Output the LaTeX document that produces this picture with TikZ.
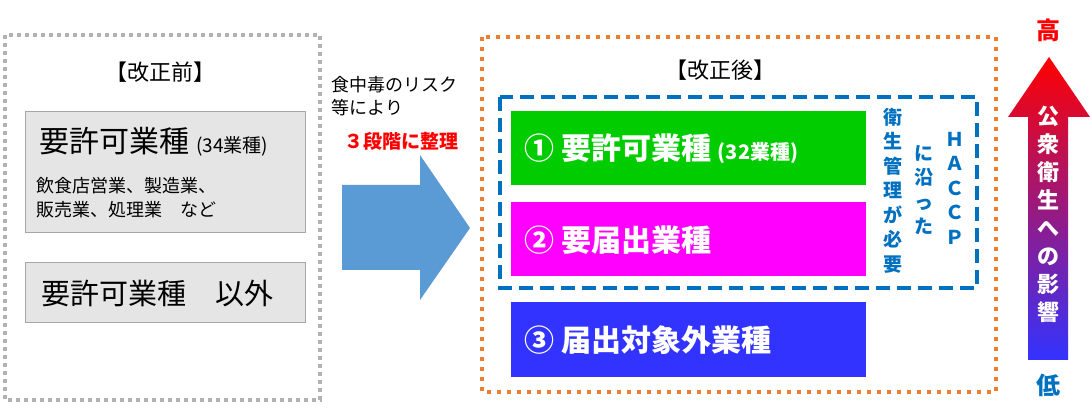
\documentclass[tikz,border=0pt]{standalone}
\usepackage{fontspec}
\setmainfont{Noto Sans CJK JP}
\begin{document}
\begin{tikzpicture}[x=1pt,y=-1pt,
  gbox/.style={draw=gray!70,fill=gray!20,line width=1pt},
  cbox/.style={inner sep=0pt,text=white,font=\bfseries\fontsize{30}{33}\selectfont},
  vt/.style={align=center,font=\bfseries\fontsize{19}{24.5}\selectfont,text=dblue,inner sep=0pt}]
\definecolor{orng}{RGB}{237,125,49}\definecolor{dblue}{RGB}{0,112,192}\definecolor{arr}{RGB}{91,155,213}
\definecolor{lpink}{RGB}{255,153,255}\definecolor{bblue}{RGB}{51,51,255}
\definecolor{mgt}{RGB}{255,0,255}\definecolor{grn}{RGB}{0,204,0}\definecolor{rd}{RGB}{255,0,0}
\useasboundingbox (0,0) rectangle (1090,419);
% left
\draw[gray!60,line width=4pt,dash pattern=on 4pt off 4pt] (5,35) rectangle (320,400);
\node[font=\fontsize{22}{26}\selectfont] (pre) at (160,72) {【改正前】};
\draw[gbox] (25,112) rectangle (305,233);
\node[anchor=west] (b1) at (36,142) {\fontsize{30}{33}\selectfont 要許可業種 \fontsize{19}{22}\selectfont(34業種)};
\node[anchor=west,align=left,font=\fontsize{18}{24}\selectfont] (b1s) at (33,198) {飲食店営業、製造業、\\ 販売業、処理業　など};
\draw[gbox] (25,263) rectangle (305,323);
\node[anchor=west,font=\fontsize{29}{32}\selectfont] (b2) at (38,293) {要許可業種　以外};
% middle text & arrow
\node[align=left,anchor=west,font=\fontsize{18}{23}\selectfont] (mt) at (328,96) {食中毒のリスク\\ 等により};
\node[font=\fontsize{19}{22}\selectfont\bfseries,text=rd] (mr) at (401,141) {３段階に整理};
\fill[arr] (342,185) -- (420,185) -- (420,155) -- (470,228) -- (420,300) -- (420,270) -- (342,270) -- cycle;
% right
\draw[orng,line width=4pt,dash pattern=on 4pt off 6pt] (482,37) rectangle (996,392);
\node[font=\fontsize{22}{26}\selectfont] (post) at (720,70) {【改正後】};
\draw[dblue,line width=4pt,dash pattern=on 14pt off 7pt] (500,97) rectangle (977,288);
\fill[grn] (511,111) rectangle (866,185);
\node[cbox,anchor=west] (c1) at (524,149) {①\ 要許可業種 \fontsize{20}{22}\selectfont(32業種)};
\fill[mgt] (511,202) rectangle (866,276);
\node[cbox,anchor=west] (c2) at (524,240) {②\ 要届出業種};
\fill[bblue] (511,302) rectangle (866,377);
\node[cbox,anchor=west] (c3) at (524,340) {③\ 届出対象外業種};
\node[vt,anchor=north] (v1) at (955,132) {Ｈ\\Ａ\\Ｃ\\Ｃ\\Ｐ};
\node[vt,anchor=north] (v2) at (924,145) {に\\沿\\っ\\た};
\node[vt,anchor=north] (v3) at (893,108) {衛\\生\\管\\理\\が\\必\\要};
% gradient arrow
\shade[top color=rd,middle color=lpink,bottom color=bblue]
 (1028,360) -- (1028,117) -- (1008,117) -- (1049,57) -- (1090,117) -- (1068,117) -- (1068,360) -- cycle;
\node[align=center,text=white,font=\bfseries\fontsize{22}{28}\selectfont,anchor=north,inner sep=0pt] (ga) at (1048,106) {公\\衆\\衛\\生\\へ\\の\\影\\響};
\node[text=rd,font=\bfseries\fontsize{24}{28}\selectfont] (hi) at (1048,30) {高};
\node[text=dblue,font=\bfseries\fontsize{24}{28}\selectfont] (lo) at (1048,385) {低};
\end{tikzpicture}
\end{document}
